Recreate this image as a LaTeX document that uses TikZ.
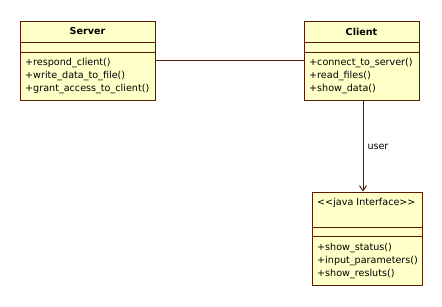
\documentclass[tikz,border=0pt]{standalone}
\usepackage{fontspec}
\setmainfont{DejaVu Sans}
\usetikzlibrary{arrows.meta}
\definecolor{umlfill}{HTML}{FFFFC8}
\definecolor{umlline}{HTML}{5A1A0A}
\begin{document}
\begin{tikzpicture}[x=1pt,y=-1pt,
  cls/.style={draw=umlline, fill=umlfill, line width=1pt, rectangle, inner sep=0pt},
  sepline/.style={draw=umlline, line width=1pt},
  ttl/.style={font=\fontsize{9.6}{12}\selectfont\bfseries, inner sep=0pt},
  mth/.style={font=\fontsize{9.6}{12}\selectfont, inner sep=0pt, anchor=west},
  conn/.style={draw=umlline, line width=1pt},
  lbl/.style={font=\fontsize{9.6}{12}\selectfont, inner sep=0pt, anchor=west},
  ]
\useasboundingbox[fill=white] (0,0) rectangle (442,306);
% Server
\node[cls, minimum width=135pt, minimum height=79pt] (server) at (87.5,60.5) {};
\draw[sepline] (20,42) -- (155,42);
\draw[sepline] (20,52) -- (155,52);
\node[ttl] (servert) at (87.5,31.5) {Server};
\node[mth] (s1) at (25,62.5) {+respond\_client()};
\node[mth] (s2) at (25,75.5) {+write\_data\_to\_file()};
\node[mth] (s3) at (25,88.5) {+grant\_access\_to\_client()};
% Client
\node[cls, minimum width=115pt, minimum height=79pt] (client) at (361.5,60.5) {};
\draw[sepline] (304,42) -- (419,42);
\draw[sepline] (304,52) -- (419,52);
\node[ttl] (clientt) at (361.5,31.5) {Client};
\node[mth] (c1) at (309,62.5) {+connect\_to\_server()};
\node[mth] (c2) at (309,75.5) {+read\_files()};
\node[mth] (c3) at (309,88.5) {+show\_data()};
% Interface
\node[cls, minimum width=110pt, minimum height=93pt] (iface) at (367,238.5) {};
\draw[sepline] (312,227) -- (422,227);
\draw[sepline] (312,236) -- (422,236);
\node[mth] (it) at (317,202.5) {<{}<java Interface>{}>};
\node[mth] (i1) at (317,247.5) {+show\_status()};
\node[mth] (i2) at (317,260.5) {+input\_parameters()};
\node[mth] (i3) at (317,273.5) {+show\_resluts()};
% Connectors
\draw[conn] (server) -- (client);
\coordinate (cs) at ([xshift=1.5pt]client.south);
\draw[conn, -{Straight Barb[length=5pt,width=7pt]}] (cs) -- (cs |- iface.north)
  node[lbl, pos=0.51, xshift=4pt] (user) {user};
\end{tikzpicture}
\end{document}
